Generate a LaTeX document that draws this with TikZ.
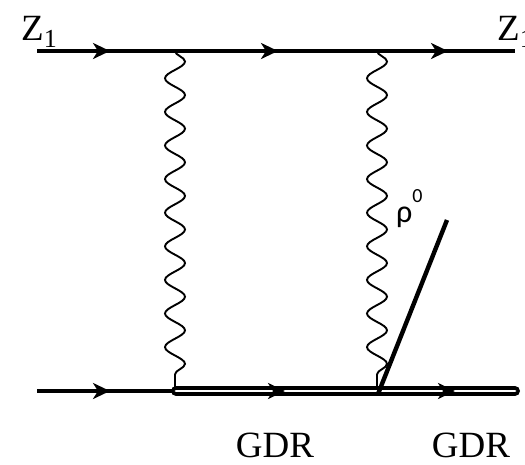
\documentclass[tikz,border=0pt]{standalone}
\usepackage{fontspec}
\setmainfont{Liberation Serif}
\newfontfamily\rhofont{Carlito}
\usetikzlibrary{arrows.meta,decorations.markings,decorations.pathmorphing}

\tikzset{
  fleche/.style={postaction={decorate,decoration={markings,
        mark=at position #1 with {\arrow{Stealth[length=17pt,width=16pt,inset=5pt]}}}}},
  noyau/.style={line width=4.6pt},
  resonance/.style={double,line width=3.6pt,double distance=2.8pt,line cap=round},
  photon/.style={line width=1.9pt,decorate,
    decoration={snake,segment length=33.6pt,amplitude=10pt}},
  etiquette/.style={font=\fontsize{37}{40}\selectfont,inner sep=0pt}
}

\newcommand{\indice}[1]{\raisebox{-0.2em}{\fontsize{26}{26}\selectfont #1}}

\begin{document}
\begin{tikzpicture}[x=1pt,y=-1pt]
		
		\useasboundingbox (0,0) rectangle (525,464);
		
		% Points du diagramme
		\coordinate (z1g) at (37,51);
		\coordinate (z1d) at (515,51);
		\coordinate (va) at (175,51);
		\coordinate (vb) at (377,51);
		\coordinate (z2g) at (37,391);
		\coordinate (ga) at (176,391);
		\coordinate (gd) at (515,391);
		\coordinate (pa) at (175,388);
		\coordinate (pb) at (377,388);
		\coordinate (rb) at (378,394);
		\coordinate (rh) at (447,220);
		
		% Noyau du haut
		\draw[noyau,fleche=73pt,fleche=241pt,fleche=411pt] (z1g) -- (z1d);
		
		% Noyau du bas et GDR
		\draw[noyau,fleche=73pt] (z2g) -- (ga);
		\draw[resonance,fleche=109pt,fleche=279pt] (ga) -- (gd);
		
		% Photons
		\draw[photon] (va) -- (pa);
		\draw[photon] (vb) -- (pb);
		
		% Meson rho
		\draw[line width=4.4pt] (rb) -- (rh);
		
		% Labels
		\node[etiquette,anchor=base west] (lz1) at (21,40) {Z\indice{1}};
		\node[etiquette,anchor=base west] (lz2) at (497,40) {Z\indice{1}};
		\node[etiquette,anchor=base] (lga) at (275,457) {GDR};
		\node[etiquette,anchor=base] (lgd) at (471,457) {GDR};
		\node[inner sep=0pt,anchor=base west] (lrho) at (396,222)
		{\rhofont\fontsize{32}{32}\selectfont ρ\raisebox{0.6em}{\fontsize{20}{20}\selectfont 0}};
		
	\end{tikzpicture}
\end{document}
